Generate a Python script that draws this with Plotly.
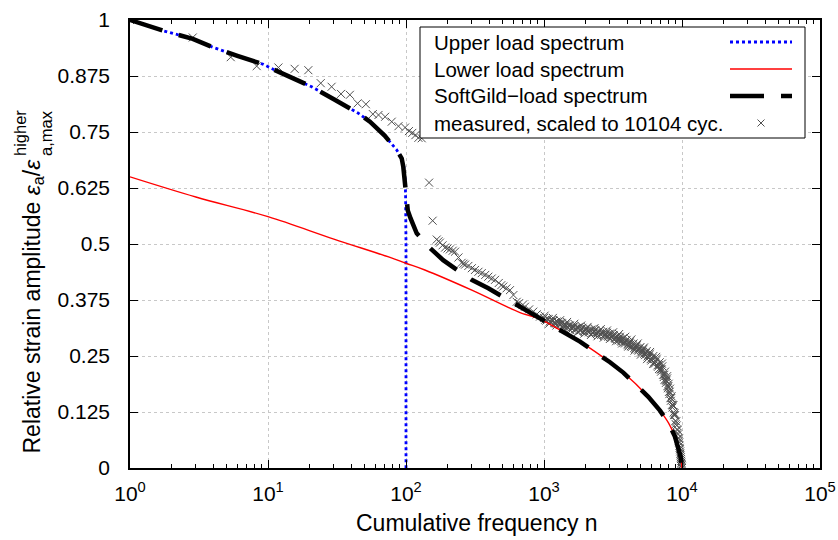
import plotly.graph_objects as go

# ---------------- data ----------------
upper_n = [1, 1.74, 2.85, 4.0, 6.0, 9.25, 10.9, 15.0, 20.7, 30.0, 45.1, 54.8, 70.0, 85.6, 93.1, 96.5, 98.5, 99.3, 99.8, 100, 100]
upper_v = [1.0, 0.976, 0.958, 0.939, 0.920, 0.901, 0.890, 0.871, 0.851, 0.823, 0.792, 0.773, 0.742, 0.710, 0.691, 0.672, 0.645, 0.610, 0.560, 0.50, 0.0]

lower_n = [1, 3, 10, 30, 76.6, 100, 137, 300, 670, 909, 1380, 1824, 3008, 3756, 5700, 6930, 8000, 8890, 9400, 9780, 10000]
lower_v = [0.650, 0.605, 0.561, 0.511, 0.470, 0.457, 0.442, 0.397, 0.347, 0.334, 0.304, 0.282, 0.236, 0.213, 0.159, 0.128, 0.100, 0.070, 0.044, 0.025, 0.0]

soft_n = [1, 1.74, 2.85, 4.0, 6.0, 9.25, 10.9, 15.0, 20.7, 30.0, 45.1, 54.8, 70.0, 85.6, 93.1, 95.6, 97.5, 99.0, 100.5, 103, 108,
          119.6, 147, 186, 230, 299, 395, 500, 650, 909, 1380, 1824, 3008, 3756, 5700, 6930, 8000, 8890, 9400, 9780, 10000]
soft_v = [1.0, 0.976, 0.958, 0.939, 0.920, 0.901, 0.890, 0.871, 0.851, 0.823, 0.792, 0.773, 0.742, 0.710, 0.691, 0.672, 0.650, 0.625, 0.598, 0.575, 0.557,
          0.524, 0.493, 0.464, 0.444, 0.420, 0.401, 0.383, 0.363, 0.338, 0.304, 0.282, 0.236, 0.213, 0.159, 0.128, 0.100, 0.070, 0.044, 0.025, 0.0]

meas_n = [1, 2.85, 5.37, 8.28, 11.9, 15.6, 19.6, 24.1, 28.9, 33.8, 39.2, 44.6, 51.2, 57.5, 63.2, 70.6, 78.8, 88.2, 98.5,
          105, 111, 117, 123, 130, 147, 156, 167, 172, 176, 184, 192, 200, 208, 218, 227, 240, 253, 261, 268, 283, 300,
          316, 335, 354, 375, 395, 418, 442, 470, 490, 507, 535, 567, 600, 634, 660, 700, 728, 780, 836, 885, 935,
          1000, 1040, 1080, 1120, 1170, 1210, 1260, 1300, 1350, 1400, 1440, 1490, 1540, 1600, 1650, 1710, 1780, 1840,
          1900, 1970, 2040, 2120, 2200, 2270, 2350, 2420, 2500, 2600, 2690, 2770, 2850, 2930, 3000, 3100, 3200, 3300,
          3400, 3480, 3550, 3650, 3750, 3860, 3970, 4080, 4200, 4320, 4450, 4570, 4700, 4850, 5000, 5120, 5250, 5400,
          5550, 5700, 5850, 6000, 6200, 6350, 6560, 6700, 6900, 7050, 7200, 7370, 7530, 7650, 7800, 7900, 8000, 8100,
          8190, 8300, 8400, 8520, 8650, 8750, 8900, 9000, 9150, 9250, 9350, 9450, 9550, 9620, 9700, 9770, 9840, 9900,
          9950, 10000]
meas_v = [1.000, 0.961, 0.917, 0.897, 0.894, 0.891, 0.888, 0.859, 0.851, 0.835, 0.833, 0.814, 0.812, 0.790, 0.788, 0.784, 0.773, 0.763, 0.760,
          0.752, 0.748, 0.743, 0.737, 0.736, 0.637, 0.552, 0.510, 0.506, 0.503, 0.497, 0.492, 0.490, 0.488, 0.485, 0.483, 0.470, 0.458, 0.456, 0.454, 0.451, 0.446,
          0.442, 0.438, 0.435, 0.431, 0.427, 0.423, 0.420, 0.413, 0.408, 0.405, 0.401, 0.397, 0.386, 0.371, 0.368, 0.364, 0.360, 0.354, 0.349, 0.343, 0.338,
          0.335, 0.329, 0.332, 0.326, 0.329, 0.323, 0.326, 0.319, 0.323, 0.316, 0.320, 0.313, 0.318, 0.311, 0.316, 0.309, 0.314, 0.307,
          0.313, 0.305, 0.311, 0.303, 0.309, 0.301, 0.307, 0.299, 0.305, 0.297, 0.304, 0.296, 0.302, 0.293, 0.300, 0.291, 0.297, 0.288,
          0.294, 0.285, 0.293, 0.282, 0.290, 0.278, 0.286, 0.274, 0.282, 0.270, 0.278, 0.266, 0.274, 0.262, 0.270, 0.258, 0.266, 0.252,
          0.261, 0.246, 0.255, 0.240, 0.250, 0.233, 0.244, 0.226, 0.236, 0.215, 0.227, 0.203, 0.215, 0.190, 0.200, 0.178, 0.188, 0.165,
          0.177, 0.150, 0.160, 0.135, 0.140, 0.118, 0.118, 0.098, 0.095, 0.078, 0.075, 0.060, 0.057, 0.045, 0.037, 0.028, 0.020, 0.012,
          0.006, 0.000]

# second, interleaved reading of the dense measured band (10^3 .. 10^4)
band_n = [1020, 1060, 1100, 1145, 1190, 1235, 1280, 1325, 1375, 1420,
          1465, 1515, 1570, 1625, 1680, 1745, 1810, 1870, 1935, 2005,
          2080, 2160, 2235, 2310, 2385, 2460, 2550, 2645, 2730, 2810,
          2890, 2965, 3050, 3150, 3250, 3350, 3440, 3515, 3600, 3700,
          3800, 3915, 4025, 4140, 4260, 4385, 4510, 4635, 4775, 4925,
          5060, 5185, 5325, 5475, 5625, 5775, 5925, 6100, 6275, 6450,
          6630, 6800, 6975, 7125, 7285, 7450, 7590, 7725, 7850, 7950,
          8050, 8145, 8245, 8350, 8460, 8585, 8700, 8825, 8950, 9075,
          9200, 9300, 9400, 9500, 9585, 9660, 9735, 9805, 9870, 9925,
          9975]
band_v = [0.331, 0.333, 0.327, 0.330, 0.324, 0.327, 0.322, 0.324, 0.318, 0.321,
          0.315, 0.318, 0.313, 0.315, 0.310, 0.313, 0.308, 0.311, 0.306, 0.310,
          0.305, 0.307, 0.302, 0.306, 0.301, 0.304, 0.299, 0.302, 0.297, 0.300,
          0.295, 0.298, 0.293, 0.296, 0.290, 0.292, 0.287, 0.290, 0.284, 0.287,
          0.280, 0.283, 0.276, 0.279, 0.272, 0.275, 0.268, 0.271, 0.264, 0.267,
          0.260, 0.262, 0.255, 0.257, 0.249, 0.251, 0.243, 0.245, 0.236, 0.238,
          0.229, 0.230, 0.220, 0.220, 0.208, 0.208, 0.196, 0.195, 0.183, 0.182,
          0.170, 0.170, 0.156, 0.156, 0.141, 0.140, 0.124, 0.122, 0.105, 0.104,
          0.086, 0.085, 0.067, 0.066, 0.050, 0.042, 0.032, 0.024, 0.016, 0.009,
          0.003]

# outer edges of the dense band
edge_n = [1010, 1090, 1160, 1230, 1310, 1390, 1470, 1560, 1660, 1760,
          1860, 1960, 2070, 2190, 2320, 2440, 2580, 2710, 2860, 3000,
          3170, 3330, 3500, 3680, 3880, 4080, 4300, 4530, 4780, 5030,
          5300, 5580, 5870, 6180, 6500, 6820, 7150, 7480, 7800]
edge_v = [0.340, 0.322, 0.335, 0.318, 0.330, 0.312, 0.326, 0.307, 0.322, 0.303,
          0.318, 0.300, 0.315, 0.297, 0.312, 0.294, 0.310, 0.291, 0.307, 0.288,
          0.303, 0.283, 0.299, 0.278, 0.293, 0.271, 0.287, 0.262, 0.278, 0.253,
          0.269, 0.243, 0.259, 0.232, 0.248, 0.221, 0.233, 0.197, 0.205]

x_tickvals = [1, 10, 100, 1000, 10000, 100000]
x_ticktext = ["10<sup>0</sup>", "10<sup>1</sup>", "10<sup>2</sup>", "10<sup>3</sup>", "10<sup>4</sup>", "10<sup>5</sup>"]
y_tickvals = [0, 0.125, 0.25, 0.375, 0.5, 0.625, 0.75, 0.875, 1]
y_ticktext = ["0", "0.125", "0.25", "0.375", "0.5", "0.625", "0.75", "0.875", "1"]

legend_labels = ["Upper load spectrum", "Lower load spectrum", "SoftGild\u2212load spectrum", "measured, scaled to 10104 cyc."]

# ---------------- layout geometry (pixels) ----------------
W, H = 838, 540
L, R, T, B = 130, 18, 20, 72
PW, PH = W - L - R, H - T - B

def px(x):
    return (x - L) / PW

def py(y):
    return (H - B - y) / PH

FONT = "Liberation Sans, Arial, sans-serif"
SOFT_DASH = "34px,17px"
MEAS_COLOR = "#505050"

fig = go.Figure()
fig.add_trace(go.Scatter(x=meas_n + band_n + edge_n, y=meas_v + band_v + edge_v, mode="markers", name=legend_labels[3],
                         marker=dict(symbol="x-thin", size=8, line=dict(color=MEAS_COLOR, width=1))))
fig.add_trace(go.Scatter(x=upper_n, y=upper_v, mode="lines", name=legend_labels[0],
                         line=dict(color="#0000ff", width=2.8, dash="dot")))
fig.add_trace(go.Scatter(x=lower_n, y=lower_v, mode="lines", name=legend_labels[1], line_shape="spline",
                         line=dict(color="#ff0000", width=1.4)))
fig.add_trace(go.Scatter(x=soft_n, y=soft_v, mode="lines", name=legend_labels[2],
                         line=dict(color="#000000", width=4.5, dash=SOFT_DASH)))

axis_common = dict(showline=True, linecolor="black", linewidth=1.5, mirror="allticks",
                   ticks="inside", tickcolor="black", ticklen=8, tickwidth=1,
                   showgrid=True, gridcolor="#c8c8c8", griddash="dot", gridwidth=1,
                   zeroline=False, automargin=False,
                   tickfont=dict(family=FONT, size=21, color="black"))

fig.update_xaxes(type="log", range=[0, 5], tickmode="array", tickvals=x_tickvals, ticktext=x_ticktext,
                 minor=dict(ticks="inside", ticklen=4, tickcolor="black", dtick="D1", showgrid=False),
                 ticklabelstandoff=6, **axis_common)
fig.update_yaxes(range=[0, 1], tickmode="array", tickvals=y_tickvals, ticktext=y_ticktext,
                 ticklabelstandoff=14, **axis_common)

shapes = []
annotations = []

# legend box
lx0, lx1, ly0, ly1 = 420, 805, 27, 138
shapes.append(dict(type="rect", xref="paper", yref="paper", x0=px(lx0), x1=px(lx1), y0=py(ly1), y1=py(ly0),
                   line=dict(color="black", width=1), fillcolor="white", layer="above"))
rows = [42, 69, 96, 123]
sx0, sx1 = 730, 792
shapes.append(dict(type="line", xref="paper", yref="paper", x0=px(sx0), x1=px(sx1), y0=py(rows[0]), y1=py(rows[0]),
                   line=dict(color="#0000ff", width=2.8, dash="dot"), layer="above"))
shapes.append(dict(type="line", xref="paper", yref="paper", x0=px(sx0), x1=px(sx1), y0=py(rows[1]), y1=py(rows[1]),
                   line=dict(color="#ff0000", width=1.4), layer="above"))
shapes.append(dict(type="line", xref="paper", yref="paper", x0=px(sx0), x1=px(sx1), y0=py(rows[2]), y1=py(rows[2]),
                   line=dict(color="black", width=4.5, dash=SOFT_DASH), layer="above"))
cx, cy = 761, rows[3]
shapes.append(dict(type="line", xref="paper", yref="paper", x0=px(cx - 3.5), x1=px(cx + 3.5), y0=py(cy - 3.5), y1=py(cy + 3.5),
                   line=dict(color=MEAS_COLOR, width=1), layer="above"))
shapes.append(dict(type="line", xref="paper", yref="paper", x0=px(cx - 3.5), x1=px(cx + 3.5), y0=py(cy + 3.5), y1=py(cy - 3.5),
                   line=dict(color=MEAS_COLOR, width=1), layer="above"))
for lab, ry in zip(legend_labels, rows):
    annotations.append(dict(text=lab, xref="paper", yref="paper", x=px(432), y=py(ry), xanchor="left", yanchor="middle",
                            showarrow=False, font=dict(family=FONT, size=20.5, color="black")))

# axis titles
annotations.append(dict(text="Cumulative frequency n", xref="paper", yref="paper", x=px(477), y=py(523),
                        xanchor="center", yanchor="middle", showarrow=False,
                        font=dict(family=FONT, size=23, color="black")))
annotations.append(dict(text="Relative strain amplitude <i>\u03b5</i><sub>a</sub>/<i>\u03b5</i>", xref="paper", yref="paper",
                        x=px(33), y=py(456), xanchor="center", yanchor="bottom", textangle=-90, showarrow=False,
                        font=dict(family=FONT, size=23, color="black")))
annotations.append(dict(text="higher", xref="paper", yref="paper",
                        x=px(20), y=py(158), xanchor="center", yanchor="bottom", textangle=-90, showarrow=False,
                        font=dict(family=FONT, size=16.5, color="black")))
annotations.append(dict(text="a,max", xref="paper", yref="paper",
                        x=px(46), y=py(158), xanchor="center", yanchor="bottom", textangle=-90, showarrow=False,
                        font=dict(family=FONT, size=16.5, color="black")))

fig.update_layout(width=W, height=H, margin=dict(l=L, r=R, t=T, b=B, pad=0, autoexpand=False),
                  paper_bgcolor="white", plot_bgcolor="white", showlegend=False,
                  shapes=shapes, annotations=annotations, font=dict(family=FONT, color="black"))

fig.write_html("out.html")
